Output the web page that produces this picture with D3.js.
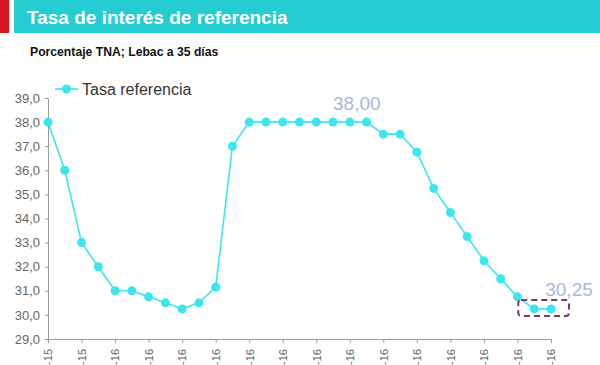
<!DOCTYPE html>
<html>
<head>
<meta charset="utf-8">
<script src="https://cdn.jsdelivr.net/npm/d3@7"></script>
<style>
  body { margin: 0; background: #fff; overflow: hidden; }
  svg { display: block; font-family: "Liberation Sans", Arial, sans-serif; }
</style>
</head>
<body>
<svg id="chart" width="600" height="365"></svg>
<script>
// Tasa de referencia (Lebac 35 días), one point per week
var rates = [
  38.0, 36.0, 33.0, 32.0, 31.0, 31.0, 30.75, 30.5, 30.25, 30.5, 31.15,
  37.0, 38.0, 38.0, 38.0, 38.0, 38.0, 38.0, 38.0, 38.0, 37.5, 37.5,
  36.75, 35.25, 34.25, 33.25, 32.25, 31.5, 30.75, 30.25, 30.25
];
// every second week carries a tick label
var tickLabels = [
  '17-dic-15', '31-dic-15', '14-ene-16', '28-ene-16', '11-feb-16', '25-feb-16',
  '10-mar-16', '24-mar-16', '07-abr-16', '21-abr-16', '05-may-16', '19-may-16',
  '02-jun-16', '16-jun-16', '30-jun-16', '14-jul-16'
];
var yTicks = [29, 30, 31, 32, 33, 34, 35, 36, 37, 38, 39];
var callouts = [
  { idx: 18, text: '38,00', dx: 7, dy: -12 },
  { idx: 30, text: '30,25', dx: 18, dy: -13 }
];

var svg = d3.select('#chart');
var cyan = '#3ce6ec';

// header band
svg.append('rect').attr('x', 0).attr('y', 0).attr('width', 9).attr('height', 33).attr('fill', '#d8141c');
svg.append('rect').attr('x', 14).attr('y', 0).attr('width', 586).attr('height', 33).attr('fill', '#25cdd3');
svg.append('text').attr('x', 27).attr('y', 24)
  .attr('fill', '#fff').attr('font-size', 19).attr('font-weight', 'bold')
  .text('Tasa de interés de referencia');
svg.append('text').attr('x', 30).attr('y', 56)
  .attr('fill', '#111').attr('font-size', 12.2).attr('font-weight', 'bold')
  .text('Porcentaje TNA; Lebac a 35 días');

var x = d3.scaleLinear().domain([0, rates.length - 1]).range([48, 551]);
var y = d3.scaleLinear().domain([29, 39]).range([339, 98]);

// y axis
var yAxis = svg.append('g').attr('transform', 'translate(48,0)')
  .call(d3.axisLeft(y).tickValues(yTicks).tickSize(3).tickPadding(5)
    .tickFormat(function (d) { return d3.format('.1f')(d).replace('.', ','); }));
yAxis.select('.domain').attr('stroke', '#9a9a9a');
yAxis.selectAll('.tick line').attr('stroke', '#9a9a9a');
yAxis.selectAll('text').attr('fill', '#666').attr('font-size', 13)
  .attr('font-family', '"Liberation Sans", Arial, sans-serif');

// x axis
var xAxis = svg.append('g').attr('transform', 'translate(0,339)')
  .call(d3.axisBottom(x).tickValues(d3.range(0, rates.length, 2)).tickSize(4)
    .tickSizeOuter(0).tickFormat(function (d, i) { return tickLabels[i]; }));
xAxis.select('.domain').attr('stroke', '#9a9a9a');
xAxis.selectAll('.tick line').attr('stroke', '#9a9a9a');
xAxis.selectAll('text')
  .attr('fill', '#666').attr('font-size', 11)
  .attr('font-family', '"Liberation Sans", Arial, sans-serif')
  .attr('text-anchor', 'end')
  .attr('dy', '0.35em')
  .attr('transform', 'translate(0,9) rotate(-90)')
  .attr('x', -1).attr('y', 0);

// series
var line = d3.line().x(function (d, i) { return x(i); }).y(function (d) { return y(d); });
svg.append('path').datum(rates)
  .attr('d', line).attr('fill', 'none')
  .attr('stroke', cyan).attr('stroke-width', 1.6);
svg.selectAll('.dot').data(rates).enter().append('circle')
  .attr('class', 'dot')
  .attr('cx', function (d, i) { return x(i); })
  .attr('cy', function (d) { return y(d); })
  .attr('r', 4.5).attr('fill', cyan);

// legend
svg.append('line').attr('x1', 55).attr('x2', 78).attr('y1', 89).attr('y2', 89)
  .attr('stroke', cyan).attr('stroke-width', 1.6);
svg.append('circle').attr('cx', 66.5).attr('cy', 89).attr('r', 4.5).attr('fill', cyan);
svg.append('text').attr('x', 82).attr('y', 95)
  .attr('fill', '#333').attr('font-size', 16).text('Tasa referencia');

// callouts
svg.selectAll('.callout').data(callouts).enter().append('text')
  .attr('class', 'callout')
  .attr('x', function (d) { return x(d.idx) + d.dx; })
  .attr('y', function (d) { return y(rates[d.idx]) + d.dy; })
  .attr('text-anchor', 'middle')
  .attr('fill', '#a9b8d8').attr('font-size', 19)
  .text(function (d) { return d.text; });

// dashed highlight around last two points
var bx0 = x(rates.length - 2) - 16, bx1 = x(rates.length - 1) + 18;
var by = y(30.25);
svg.append('rect')
  .attr('x', bx0).attr('y', by - 9)
  .attr('width', bx1 - bx0).attr('height', 16)
  .attr('rx', 3).attr('fill', 'none')
  .attr('stroke', '#7b3b5e').attr('stroke-width', 2)
  .attr('stroke-dasharray', '6,4');
</script>
</body>
</html>
